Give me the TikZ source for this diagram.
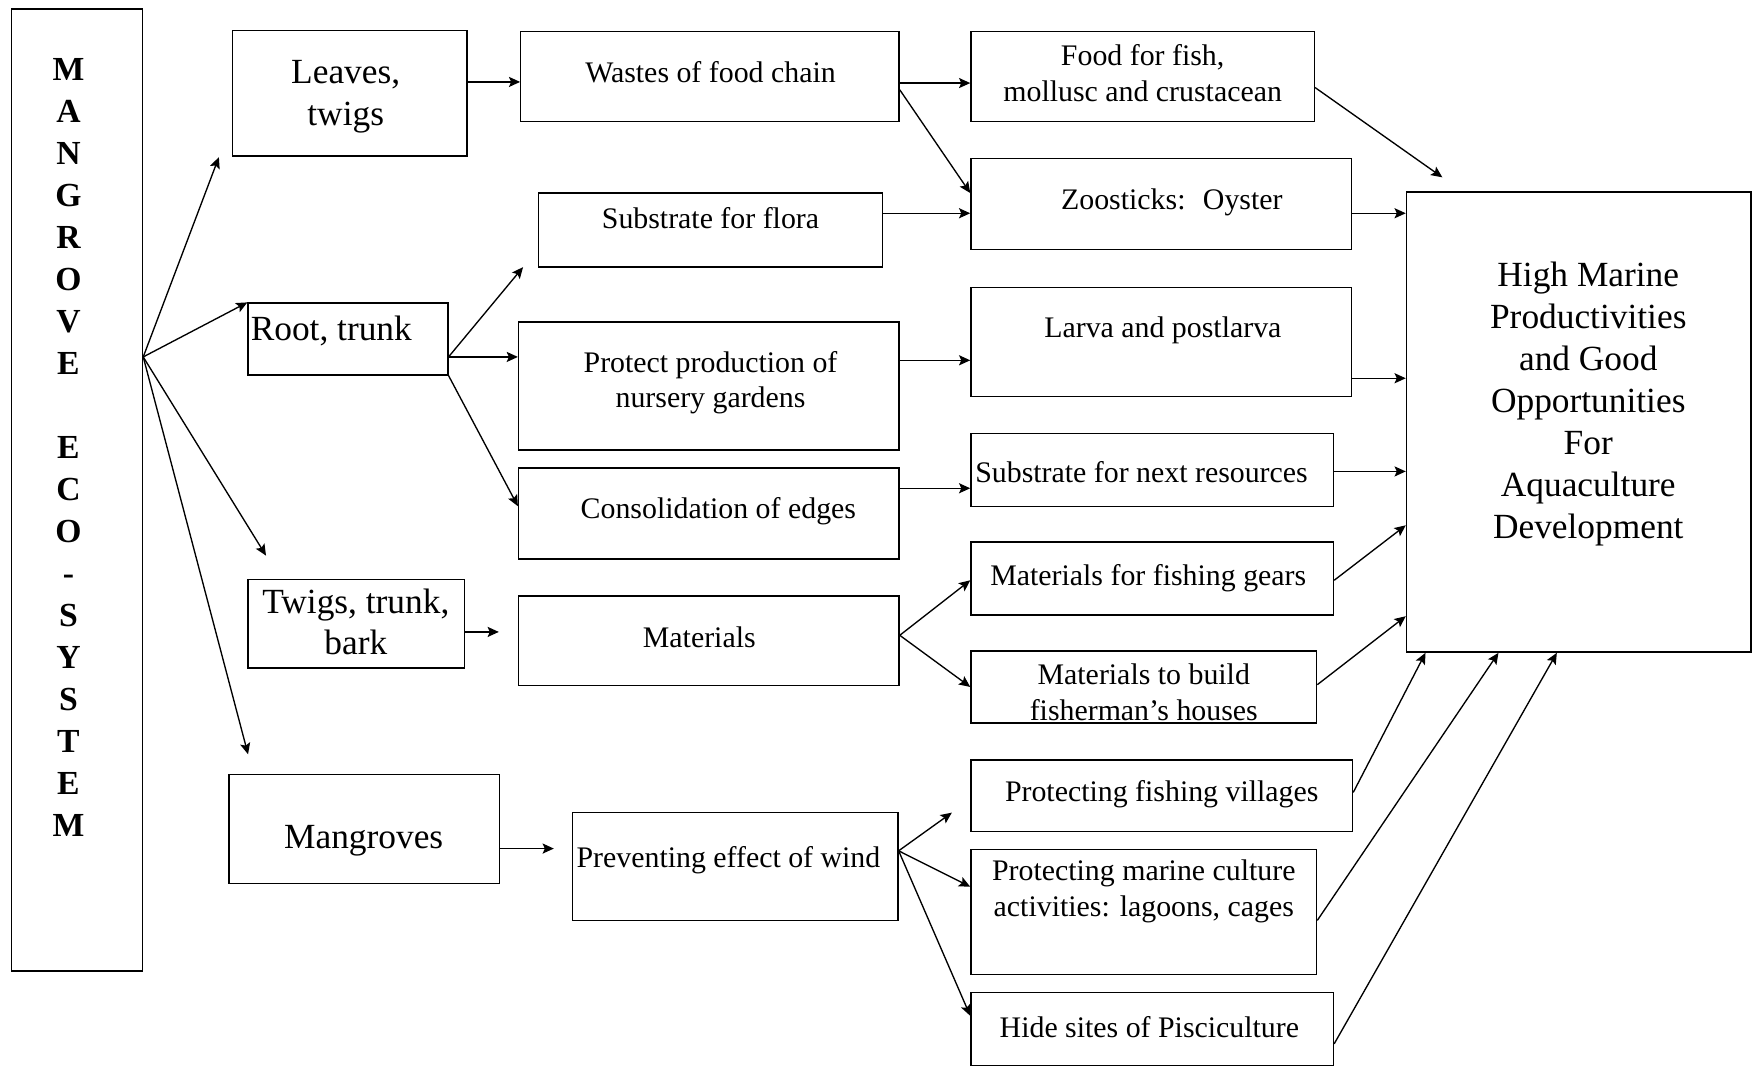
\documentclass[tikz,border=0pt]{standalone}
\usepackage{fontspec}
\setmainfont{Liberation Serif}
\usetikzlibrary{arrows.meta}
\tikzset{
  box/.style={draw, line width=0.6pt, inner sep=0pt},
  lbl/.style={inner sep=0pt, align=center, font=\fontsize{13.3}{16}\selectfont},
  biglbl/.style={inner sep=0pt, align=center, font=\fontsize{15.75}{18.5}\selectfont},
  goal/.style={inner sep=0pt, align=center, font=\fontsize{15.75}{18.65}\selectfont},
  vert/.style={inner sep=0pt, align=center, font=\fontsize{15}{18.7}\selectfont\bfseries},
  flow/.style={line width=0.6pt, -{Stealth[length=5pt,width=4.5pt,inset=1pt]}},
}
% \boxat{name}{x1}{y1}{x2}{y2}: framed box given by its corners
\newcommand\boxat[5]{\node[box, minimum width={(#4-#2)*0.5pt}, minimum height={(#5-#3)*0.5pt}] (#1) at ({(#2+#4)/2},{(#3+#5)/2}) {};}

\begin{document}
\begin{tikzpicture}[x=0.5pt,y=-0.5pt]
\useasboundingbox (0,0) rectangle (1568,951);

% ---------- boxes ----------
\boxat{mg}{10}{8}{127}{865}
\boxat{leaves}{207}{27}{416}{139}
\boxat{root}{221}{270}{399}{334}
\boxat{twigs}{221}{516}{414}{595}
\boxat{mang}{204}{690}{445}{787}

\boxat{wastes}{464}{28}{801}{108}
\boxat{flora}{480}{172}{786}{238}
\boxat{protect}{462}{287}{801}{401}
\boxat{consol}{462}{417}{801}{498}
\boxat{materials}{462}{531}{801}{611}
\boxat{wind}{510}{724}{800}{820}

\boxat{food}{865}{28}{1171}{108}
\boxat{zoo}{865}{141}{1204}{222}
\boxat{larva}{865}{256}{1204}{353}
\boxat{nextres}{865}{386}{1188}{451}
\boxat{gears}{865}{483}{1188}{548}
\boxat{houses}{865}{580}{1173}{644}
\boxat{villages}{865}{677}{1205}{741}
\boxat{marine}{865}{757}{1173}{868}
\boxat{hide}{865}{884}{1188}{949}

\boxat{high}{1253}{171}{1560}{581}

% ---------- texts ----------
\node[vert] (mg-t) at (61,398.5) {M\\A\\N\\G\\R\\O\\V\\E\\[18.7pt]E\\C\\O\\-\\S\\Y\\S\\T\\E\\M};

\node[biglbl] (leaves-t) at (308,86) {Leaves,\\twigs};
\node[biglbl, anchor=west] (root-t) at (223,295) {Root, trunk};
\node[biglbl] (twigs-t) at (317,554) {Twigs, trunk,\\bark};
\node[biglbl] (mang-t) at (324,749) {Mangroves};

\node[lbl] (wastes-t) at (633,64) {Wastes of food chain};
\node[lbl] (flora-t) at (633,194) {Substrate for flora};
\node[lbl] (protect-t) at (633,341) {Protect production of\\nursery gardens};
\node[lbl] (consol-t) at (640,455) {Consolidation of edges};
\node[lbl] (materials-t) at (623,568) {Materials};
\node[lbl] (wind-t) at (649,766) {Preventing effect of wind};

\node[lbl] (food-t) at (1018,65) {Food for fish,\\mollusc and crustacean};
\node[lbl] (zoo-t) at (1044,180) {Zoosticks:~ Oyster};
\node[lbl] (larva-t) at (1036,294) {Larva and postlarva};
\node[lbl] (nextres-t) at (1017,421) {Substrate for next resources};
\node[lbl] (gears-t) at (1023,515) {Materials for fishing gears};
\node[lbl] (houses-t) at (1019,617) {Materials to build\\fisherman’s houses};
\node[lbl] (villages-t) at (1035,708) {Protecting fishing villages};
\node[lbl] (marine-t) at (1019,794) {Protecting marine culture\\activities: lagoons, cages};
\node[lbl] (hide-t) at (1024,915) {Hide sites of Pisciculture};

\node[goal] (high-t) at (1415,360) {High Marine\\Productivities\\and Good\\Opportunities\\For\\Aquaculture\\Development};

% ---------- free arrow ends ----------
\coordinate (toLeaves) at (195,140);
\coordinate (toTwigs) at (237,495);
\coordinate (toMang) at (221,672);
\coordinate (toFlora) at (466,238);
\coordinate (toVillages) at (848,724);
\coordinate (toHigh) at (1285,158);

% ---------- connectors ----------
\draw[flow] (mg.east |- 0,318) -- (toLeaves);
\draw[flow] (mg.east |- 0,318) -- (root.north west);
\draw[flow] (mg.east |- 0,318) -- (toTwigs);
\draw[flow] (mg.east |- 0,318) -- (toMang);

\draw[flow] (leaves.east |- 0,73) -- (wastes.west |- 0,73);
\draw[flow] (root.east |- 0,318) -- (toFlora);
\draw[flow] (root.east |- 0,318) -- (protect.west |- 0,318);
\draw[flow] (root.south east) -- (consol.west |- 0,451);
\draw[flow, shorten >=8.5pt] (twigs.east |- 0,563) -- (materials.west |- 0,563);
\draw[flow, shorten >=8pt] (mang.east |- 0,756) -- (wind.west |- 0,756);

\draw[flow] (wastes.east |- 0,74) -- (food.west |- 0,74);
\draw[flow] (wastes.east |- 0,80) -- (zoo.west |- 0,172);
\draw[flow] (flora.east |- 0,190) -- (zoo.west |- 0,190);
\draw[flow] (protect.east |- 0,321) -- (larva.west |- 0,321);
\draw[flow] (consol.east |- 0,435) -- (nextres.west |- 0,435);
\draw[flow] (materials.east |- 0,566) -- (gears.west |- 0,517);
\draw[flow] (materials.east |- 0,566) -- (houses.west |- 0,612);
\draw[flow] (wind.east |- 0,758) -- (toVillages);
\draw[flow] (wind.east |- 0,758) -- (marine.west |- 0,790);
\draw[flow] (wind.east |- 0,758) -- (hide.west |- 0,905);

\draw[flow] (food.east |- 0,78) -- (toHigh);
\draw[flow] (zoo.east |- 0,190) -- (high.west |- 0,190);
\draw[flow] (larva.east |- 0,337) -- (high.west |- 0,337);
\draw[flow] (nextres.east |- 0,420) -- (high.west |- 0,420);
\draw[flow] (gears.east |- 0,517) -- (high.west |- 0,468);
\draw[flow] (houses.east |- 0,610) -- (high.west |- 0,549);
\draw[flow] (villages.east |- 0,706) -- (high.south -| 1270,0);
\draw[flow] (marine.east |- 0,820) -- (high.south -| 1335,0);
\draw[flow] (hide.east |- 0,930) -- (high.south -| 1387,0);
\end{tikzpicture}
\end{document}
